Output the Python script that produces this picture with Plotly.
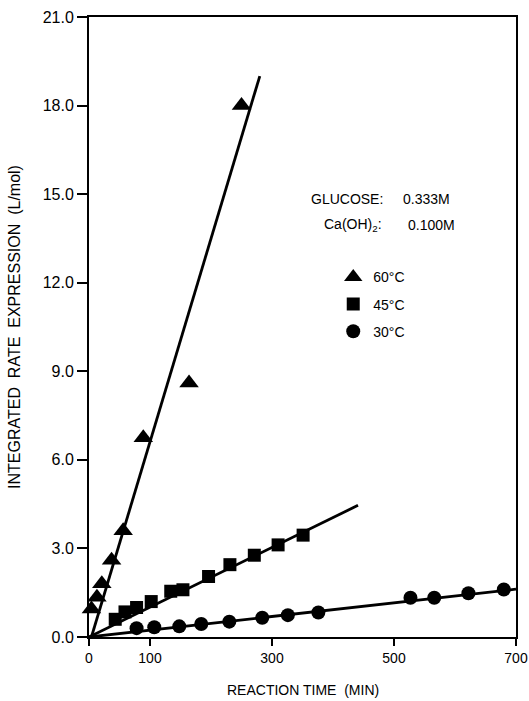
import plotly.graph_objects as go

# ---- data ----
t_60 = [4, 13, 21, 37, 56, 89, 164, 250]
y_60 = [0.95, 1.35, 1.8, 2.6, 3.6, 6.75, 8.6, 18.0]

t_45 = [43, 59, 78, 102, 134, 154, 196, 231, 271, 310, 351]
y_45 = [0.6, 0.85, 1.0, 1.2, 1.55, 1.6, 2.05, 2.45, 2.77, 3.12, 3.45]

t_30 = [78, 107, 148, 184, 230, 284, 326, 376, 527, 566, 622, 680]
y_30 = [0.3, 0.33, 0.36, 0.44, 0.52, 0.65, 0.74, 0.83, 1.33, 1.33, 1.48, 1.61]

# fitted straight lines: ([start time, end time], [start value, end value])
fit_60 = ([4, 280], [0.0, 19.0])
fit_45 = ([0, 441], [0.0, 4.46])
fit_30 = ([0, 700], [0.0, 1.62])

x_ticks = [0, 100, 300, 500, 700]
y_ticks = [0, 3, 6, 9, 12, 15, 18, 21]
y_tick_text = ["0.0", "3.0", "6.0", "9.0", "12.0", "15.0", "18.0", "21.0"]

FONT = "Liberation Sans, Arial, Helvetica, sans-serif"
BLACK = "#000000"

fig = go.Figure()

for (fx, fy) in (fit_60, fit_45, fit_30):
    fig.add_trace(go.Scatter(x=fx, y=fy, mode="lines",
                             line=dict(color=BLACK, width=2.8),
                             showlegend=False, hoverinfo="skip", cliponaxis=False))

fig.add_trace(go.Scatter(x=t_60, y=y_60, mode="markers", name="60°C",
                         legendgroup="a", cliponaxis=False,
                         marker=dict(symbol="triangle-up", size=17, color=BLACK)))
fig.add_trace(go.Scatter(x=t_45, y=y_45, mode="markers", name="45°C",
                         legendgroup="b", cliponaxis=False,
                         marker=dict(symbol="square", size=13, color=BLACK)))
fig.add_trace(go.Scatter(x=t_30, y=y_30, mode="markers", name="30°C",
                         legendgroup="c", cliponaxis=False,
                         marker=dict(symbol="circle", size=14, color=BLACK)))

annotations = [
    dict(x=361, y=14.83, text="GLUCOSE:", xanchor="left"),
    dict(x=512, y=14.83, text="0.333M", xanchor="left"),
    dict(x=382, y=13.95, text="Ca(OH)<sub>2</sub>:", xanchor="left"),
    dict(x=519, y=13.95, text="0.100M", xanchor="left"),
]
for a in annotations:
    a.update(xref="x", yref="y", yanchor="middle", showarrow=False,
             font=dict(family=FONT, size=14, color=BLACK))

# x-axis title placed below the tick labels
annotations.append(dict(xref="paper", yref="paper", x=0.5, y=-0.0855,
                        xanchor="center", yanchor="middle", showarrow=False,
                        text="REACTION TIME  (MIN)",
                        font=dict(family=FONT, size=14, color=BLACK)))

fig.update_layout(
    width=529, height=701,
    margin=dict(l=89, r=13, t=17, b=64, autoexpand=False),
    paper_bgcolor="white", plot_bgcolor="white",
    font=dict(family=FONT, size=15, color=BLACK),
    annotations=annotations,
    legend=dict(x=0.572, y=0.606, xanchor="left", yanchor="top",
                bgcolor="rgba(0,0,0,0)", borderwidth=0,
                font=dict(family=FONT, size=14, color=BLACK),
                tracegroupgap=6, itemsizing="trace"),
    xaxis=dict(range=[0, 700], tickvals=x_ticks, ticktext=[str(v) for v in x_ticks],
               automargin=False,
               showgrid=False, zeroline=False, showline=True, linecolor=BLACK,
               linewidth=2, mirror=True, ticks="outside", ticklen=7,
               tickwidth=2, tickcolor=BLACK,
               tickfont=dict(family=FONT, size=14, color=BLACK)),
    yaxis=dict(range=[0, 21], tickvals=y_ticks, ticktext=y_tick_text,
               automargin=False,
               showgrid=False, zeroline=False, showline=True, linecolor=BLACK,
               linewidth=2, mirror=True, ticks="outside", ticklen=10,
               tickwidth=2, tickcolor=BLACK,
               tickfont=dict(family=FONT, size=16, color=BLACK),
               title=dict(text="INTEGRATED  RATE  EXPRESSION  (L/mol)", standoff=18,
                          font=dict(family=FONT, size=16, color=BLACK))),
)

# remove the default page margin so the 529x701 figure fills the window exactly
fig.write_html("out.html",
               config={"displayModeBar": False},
               post_script="document.body.style.margin='0';document.body.style.overflow='hidden';")
